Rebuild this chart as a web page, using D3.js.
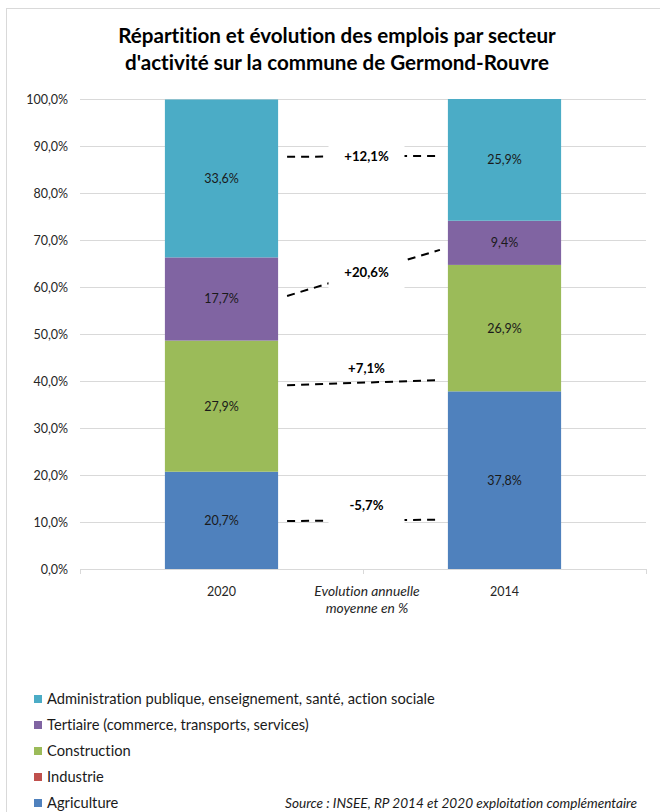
<!DOCTYPE html>
<html>
<head>
<meta charset="utf-8">
<script src="https://cdn.jsdelivr.net/npm/d3@7"></script>
<style>
  body { margin: 0; background: #fff; }
  svg { display: block; font-family: Lato, "Open Sans", sans-serif; font-variant-ligatures: none; }
</style>
</head>
<body>
<div id="chart"></div>
<script>
// years shown as bars (left to right, as in the source)
const years = ["2020", "2014"];

// sectors, stacking order bottom -> top
const sectors = [
  "Agriculture",
  "Industrie",
  "Construction",
  "Tertiaire (commerce, transports, services)",
  "Administration publique, enseignement, santé, action sociale"
];
const sectorColors = ["#4F81BD", "#C0504D", "#9BBB59", "#8064A2", "#4BACC6"];

// share of jobs, %, same order as sectors
const share2020 = [20.7, 0, 27.9, 17.7, 33.6];
const share2014 = [37.8, 0, 26.9, 9.4, 25.9];

// annual evolution annotations (dashed lines between bars)
const evolLabels = ["-5,7%", "+7,1%", "+20,6%", "+12,1%"];
const evolStart = [10.2, 39.1, 58.1, 87.7];   // line level at 2020 side, %
const evolEnd = [10.5, 40.2, 67.9, 87.9];     // line level at 2014 side, %
const evolLabelAt = [13.6, 42.6, 63.2, 87.7]; // label level, %
const evolMasked = [true, false, true, true]; // label box hides the line

const yTicks = [0, 10, 20, 30, 40, 50, 60, 70, 80, 90, 100];

const width = 660, height = 812;
const plot = { left: 80, right: 646, top: 99, bottom: 569 };

const svg = d3.select("#chart").append("svg")
  .attr("width", width)
  .attr("height", height);

// outer chart frame
svg.append("rect")
  .attr("x", 6.5).attr("y", 8.5)
  .attr("width", width + 10).attr("height", height + 10)
  .attr("fill", "none")
  .attr("stroke", "#d9d9d9");

// title
svg.append("text")
  .attr("x", 337).attr("y", 43)
  .attr("text-anchor", "middle")
  .style("font-size", "20.6px").style("font-weight", "bold").style("fill", "#000")
  .text("Répartition et évolution des emplois par secteur");
svg.append("text")
  .attr("x", 337).attr("y", 70)
  .attr("text-anchor", "middle")
  .style("font-size", "20.6px").style("font-weight", "bold").style("fill", "#000")
  .text("d'activité sur la commune de Germond-Rouvre");

const x = d3.scaleBand()
  .domain(years)
  .range([plot.left, plot.right])
  .paddingInner(0.6)
  .paddingOuter(0.3);

const y = d3.scaleLinear()
  .domain([0, 100])
  .range([plot.bottom, plot.top]);

const fmt = (v) => d3.format(".1f")(v).replace(".", ",") + "%";

// gridlines + y labels
const yAxis = svg.append("g")
  .attr("transform", `translate(${plot.left},0)`)
  .call(d3.axisLeft(y).tickValues(yTicks).tickSize(-(plot.right - plot.left)).tickPadding(12).tickFormat(fmt));
yAxis.select(".domain").remove();
yAxis.selectAll(".tick line").attr("stroke", "#d9d9d9");
yAxis.selectAll(".tick text")
  .style("font-family", "Lato, sans-serif").style("font-size", "12.5px").attr("fill", "#262626");

// x axis line with ticks at band edges
const edges = [plot.left, plot.left + (plot.right - plot.left) / 2, plot.right];
svg.append("line")
  .attr("x1", plot.left).attr("x2", plot.right)
  .attr("y1", y(0) + 0.5).attr("y2", y(0) + 0.5)
  .attr("stroke", "#d9d9d9");
svg.selectAll(".xtick").data(edges).join("line")
  .attr("x1", (d) => d + 0.5).attr("x2", (d) => d + 0.5)
  .attr("y1", y(0)).attr("y2", y(0) + 5)
  .attr("stroke", "#d9d9d9");

svg.selectAll(".xlabel").data(years).join("text")
  .attr("x", (d) => x(d) + x.bandwidth() / 2)
  .attr("y", y(0) + 27)
  .attr("text-anchor", "middle")
  .style("font-size", "12.5px").attr("fill", "#262626")
  .text((d) => d);

svg.append("text")
  .attr("x", 367).attr("y", y(0) + 27)
  .attr("text-anchor", "middle")
  .style("font-size", "13.8px").style("font-style", "italic").attr("fill", "#262626")
  .text("Evolution annuelle");
svg.append("text")
  .attr("x", 367).attr("y", y(0) + 44)
  .attr("text-anchor", "middle")
  .style("font-size", "13.8px").style("font-style", "italic").attr("fill", "#262626")
  .text("moyenne en %");

// stacked bars
const rows = years.map((yr, i) => {
  const vals = i === 0 ? share2020 : share2014;
  const row = { year: yr };
  sectors.forEach((s, j) => (row[s] = vals[j]));
  return row;
});
const stacked = d3.stack().keys(sectors)(rows);

const layers = svg.selectAll(".layer").data(stacked).join("g")
  .attr("fill", (d, i) => sectorColors[i]);

layers.selectAll("rect").data((d) => d).join("rect")
  .attr("x", (d) => x(d.data.year))
  .attr("width", x.bandwidth())
  .attr("y", (d) => y(d[1]))
  .attr("height", (d) => y(d[0]) - y(d[1]));

layers.selectAll("text").data((d) => d.filter((p) => p[1] - p[0] > 0)).join("text")
  .attr("x", (d) => x(d.data.year) + x.bandwidth() / 2)
  .attr("y", (d) => y((d[0] + d[1]) / 2))
  .attr("dy", "0.35em")
  .attr("text-anchor", "middle")
  .style("font-size", "12.5px").attr("fill", "#1a1a1a")
  .text((d) => fmt(d[1] - d[0]));

// evolution dashed lines
const lx1 = x("2020") + x.bandwidth() + 9;
const lx2 = x("2014") - 8;
const lmid = (lx1 + lx2) / 2 + 3;

svg.selectAll(".evol").data(evolLabels).join("line")
  .attr("x1", lx1).attr("x2", lx2)
  .attr("y1", (d, i) => y(evolStart[i]))
  .attr("y2", (d, i) => y(evolEnd[i]))
  .attr("stroke", "#000")
  .attr("stroke-width", 2)
  .attr("stroke-dasharray", "8,6");

// label boxes
svg.selectAll(".evolbox").data(evolLabels.filter((d, i) => evolMasked[i])).join("rect")
  .attr("x", lmid - 38)
  .attr("width", 76)
  .attr("y", (d) => y(evolLabelAt[evolLabels.indexOf(d)]) - 16)
  .attr("height", 34)
  .attr("fill", "#fff");

svg.selectAll(".evoltext").data(evolLabels).join("text")
  .attr("x", lmid)
  .attr("y", (d, i) => y(evolLabelAt[i]))
  .attr("dy", "0.35em")
  .attr("text-anchor", "middle")
  .style("font-size", "13.2px").style("font-weight", "bold").attr("fill", "#000")
  .text((d) => d);

// legend (top entry = last sector)
const legendOrder = sectors.map((s, i) => i).reverse();
const legend = svg.selectAll(".legend").data(legendOrder).join("g")
  .attr("transform", (d, k) => `translate(34,${699 + k * 26})`);
legend.append("rect")
  .attr("x", 0).attr("y", -4)
  .attr("width", 8).attr("height", 8)
  .attr("fill", (d) => sectorColors[d]);
legend.append("text")
  .attr("x", 13).attr("dy", "0.35em")
  .style("font-size", "14.7px").attr("fill", "#1a1a1a")
  .text((d) => sectors[d]);

// source
svg.append("text")
  .attr("x", 637).attr("y", 803).attr("dy", "0.35em")
  .attr("text-anchor", "end")
  .style("font-size", "13.6px").style("font-style", "italic").attr("fill", "#1a1a1a")
  .text("Source : INSEE, RP 2014 et 2020 exploitation complémentaire");
</script>
</body>
</html>
